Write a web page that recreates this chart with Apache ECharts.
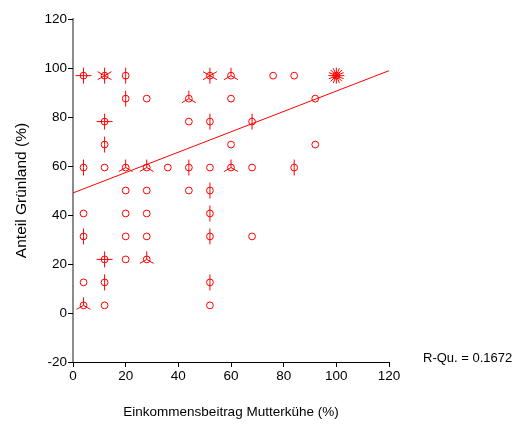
<!DOCTYPE html>
<html>
<head>
<meta charset="utf-8">
<script src="https://cdn.jsdelivr.net/npm/echarts@6/dist/echarts.min.js"></script>
<style>html,body{margin:0;padding:0;background:#fff}#c{width:514px;height:424px}</style>
</head>
<body>
<div id="c"></div>
<script>
// Sunflower points: x (%), y (%), number of observations at that spot
const pointX = [4,12,20,52,60,76,84,100, 20,28,44,60,92, 12,44,52,68, 12,60,92,
  4,12,20,28,36,44,52,60,68,84, 20,28,44,52, 4,20,28,52, 4,20,28,52,68, 12,20,28, 4,12,52, 4,12,52];
const pointY = [96.875,96.875,96.875,96.875,96.875,96.875,96.875,96.875,
  87.5,87.5,87.5,87.5,87.5,
  78.125,78.125,78.125,78.125,
  68.75,68.75,68.75,
  59.375,59.375,59.375,59.375,59.375,59.375,59.375,59.375,59.375,59.375,
  50,50,50,50,
  40.625,40.625,40.625,40.625,
  31.25,31.25,31.25,31.25,31.25,
  21.875,21.875,21.875,
  12.5,12.5,12.5,
  3.125,3.125,3.125];
const pointN = [4,6,2,6,3,1,1,16, 2,1,3,1,1, 4,1,2,2, 2,1,1,
  2,1,3,3,1,2,1,3,1,2, 1,1,1,2, 1,1,1,2, 2,1,1,2,1, 4,1,3, 1,2,2, 3,1,1];
const fitX = [0, 120];
const fitY = [49, 98.9];
const xTicks = {min: 0, max: 120, interval: 20};
const yTicks = {min: -20, max: 120, interval: 20};
const xTitle = 'Einkommensbeitrag Mutterkühe (%)';
const yTitle = 'Anteil Grünland (%)';
const rsqText = 'R-Qu. = 0.1672';

const RED = '#ff0000';
const FONT = 'Liberation Sans, Arial, sans-serif';
const data = pointX.map((x, i) => [x, pointY[i], pointN[i]]);

const chart = echarts.init(document.getElementById('c'), null, {renderer: 'canvas'});
chart.setOption({
  animation: false,
  backgroundColor: '#fff',
  grid: {left: 73, right: 125, top: 19, bottom: 61},
  xAxis: {
    type: 'value', min: xTicks.min, max: xTicks.max, interval: xTicks.interval,
    splitLine: {show: false},
    axisLine: {show: true, onZero: false, lineStyle: {color: '#000', width: 1}},
    axisTick: {show: true, length: 5, lineStyle: {color: '#000'}},
    axisLabel: {color: '#000', fontSize: 13.5, fontFamily: FONT, margin: 7},
    name: xTitle, nameLocation: 'middle', nameGap: 43,
    nameTextStyle: {color: '#000', fontSize: 13.5, fontFamily: FONT}
  },
  yAxis: [{
    type: 'value', min: yTicks.min, max: yTicks.max, interval: yTicks.interval,
    splitLine: {show: false},
    axisLine: {show: true, onZero: false, lineStyle: {color: '#000', width: 1}},
    axisTick: {show: true, length: 5, lineStyle: {color: '#000'}},
    axisLabel: {color: '#000', fontSize: 13.5, fontFamily: FONT, margin: 6},
    name: yTitle, nameLocation: 'middle', nameGap: 43, nameRotate: 90,
    nameTextStyle: {color: '#000', fontSize: 15.5, fontFamily: FONT}
  }, {
    type: 'value', position: 'right', min: yTicks.min, max: yTicks.max, interval: yTicks.interval,
    splitLine: {show: false},
    axisLine: {show: true, lineStyle: {color: '#8c8c8c', width: 2}},
    axisTick: {show: false}, axisLabel: {show: false}
  }],
  graphic: [{
    type: 'text', left: 423, top: 352,
    style: {text: rsqText, fill: '#000', font: '13px ' + FONT}
  }],
  series: [{
    type: 'line', data: fitX.map((x, i) => [x, fitY[i]]),
    symbol: 'none', lineStyle: {color: RED, width: 1}, z: 3
  }, {
    type: 'custom', data: data, z: 4,
    renderItem: function (params, api) {
      const c = api.coord([api.value(0), api.value(1)]);
      const n = api.value(2);
      const children = [{
        type: 'circle', shape: {cx: c[0], cy: c[1], r: 3.4},
        style: {fill: 'none', stroke: RED, lineWidth: 1}
      }];
      if (n > 1) {
        const L = 8;
        for (let k = 0; k < n; k++) {
          const a = Math.PI / 2 + 2 * Math.PI * k / n;
          children.push({
            type: 'line',
            shape: {x1: c[0], y1: c[1], x2: c[0] + L * Math.cos(a), y2: c[1] - L * Math.sin(a)},
            style: {stroke: RED, lineWidth: 1}
          });
        }
      }
      return {type: 'group', children: children};
    }
  }]
});
</script>
</body>
</html>
